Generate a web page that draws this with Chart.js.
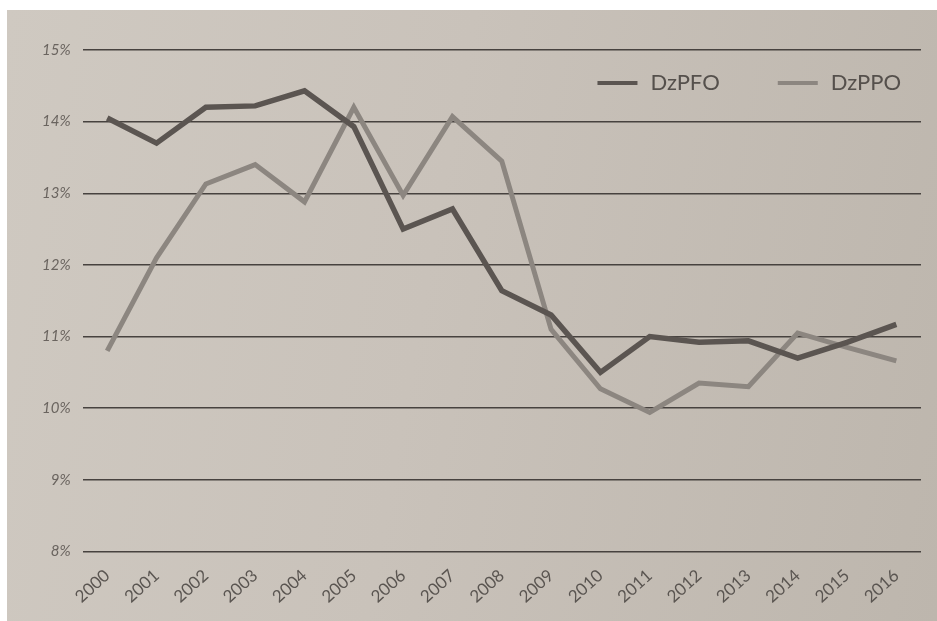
<!DOCTYPE html>
<html>
<head>
<meta charset="utf-8">
<script src="https://cdn.jsdelivr.net/npm/chart.js@4.4.0/dist/chart.umd.min.js"></script>
<style>
  html, body { margin: 0; padding: 0; background: #ffffff; }
  #wrap {
    position: absolute; left: 7px; top: 10px; width: 930px; height: 611px;
    background: linear-gradient(100deg, #cfc9c1 0%, #c9c2ba 45%, #bdb6ad 100%);
  }
  #chart { position: absolute; left: -7px; top: -10px; }
</style>
</head>
<body>
<div id="wrap"><canvas id="chart" width="937" height="621"></canvas></div>
<script>
  // years on the x axis
  const years = ['2000','2001','2002','2003','2004','2005','2006','2007','2008',
                 '2009','2010','2011','2012','2013','2014','2015','2016'];
  // values in percent
  const dzpfo = [14.05,13.7,14.2,14.22,14.43,13.93,12.5,12.78,11.64,
                 11.3,10.5,11.0,10.92,10.94,10.7,10.92,11.17];
  const dzppo = [10.8,12.1,13.13,13.4,12.88,14.2,12.97,14.07,13.45,
                 11.1,10.27,9.94,10.35,10.3,11.05,10.85,10.66];
  const yTicks = [8,9,10,11,12,13,14,15];

  const fontFam = "Lato, 'Open Sans', sans-serif";

  // legend drawn inside the plot, top right, like in the printed chart
  const insideLegend = {
    id: 'insideLegend',
    afterDraw(chart) {
      const c = chart.ctx;
      const area = chart.chartArea;
      c.save();
      c.font = '22px ' + fontFam;
      c.textBaseline = 'middle';
      let x = area.right - 20;
      const y = area.top + 33;
      const sets = chart.data.datasets.slice().reverse();
      sets.forEach((ds) => {
        const w = c.measureText(ds.label).width;
        x -= w;
        c.fillStyle = '#55504c';
        c.fillText(ds.label, x, y);
        x -= 13;
        c.strokeStyle = ds.borderColor;
        c.lineWidth = 4;
        c.beginPath();
        c.moveTo(x - 40, y);
        c.lineTo(x, y);
        c.stroke();
        x -= 40 + 58;
      });
      c.restore();
    }
  };

  new Chart(document.getElementById('chart'), {
    type: 'line',
    data: {
      labels: years,
      datasets: [{
        label: 'DzPFO',
        data: dzpfo,
        borderColor: '#5b5551',
        backgroundColor: '#5b5551',
        borderWidth: 5.5,
        pointRadius: 0,
        tension: 0
      }, {
        label: 'DzPPO',
        data: dzppo,
        borderColor: '#8c8680',
        backgroundColor: '#8c8680',
        borderWidth: 5,
        pointRadius: 0,
        tension: 0
      }]
    },
    options: {
      responsive: false,
      animation: false,
      layout: { padding: { top: 50, right: 16, left: 30, bottom: 8 } },
      plugins: {
        legend: { display: false },
        tooltip: { enabled: false }
      },
      scales: {
        x: {
          offset: true,
          grid: { display: false },
          border: { display: false },
          ticks: {
            minRotation: 42,
            maxRotation: 42,
            padding: 6,
            color: '#5a5551',
            font: { family: fontFam, size: 17 }
          }
        },
        y: {
          min: 8,
          max: 15,
          afterBuildTicks: (axis) => { axis.ticks = yTicks.map(v => ({ value: v })); },
          grid: { color: '#47423f', lineWidth: 1.5, drawTicks: false },
          border: { display: false },
          ticks: {
            padding: 12,
            color: '#6a645f',
            font: { family: fontFam, size: 15, style: 'italic' },
            callback: (v) => v + '%'
          }
        }
      }
    },
    plugins: [insideLegend]
  });
</script>
</body>
</html>
